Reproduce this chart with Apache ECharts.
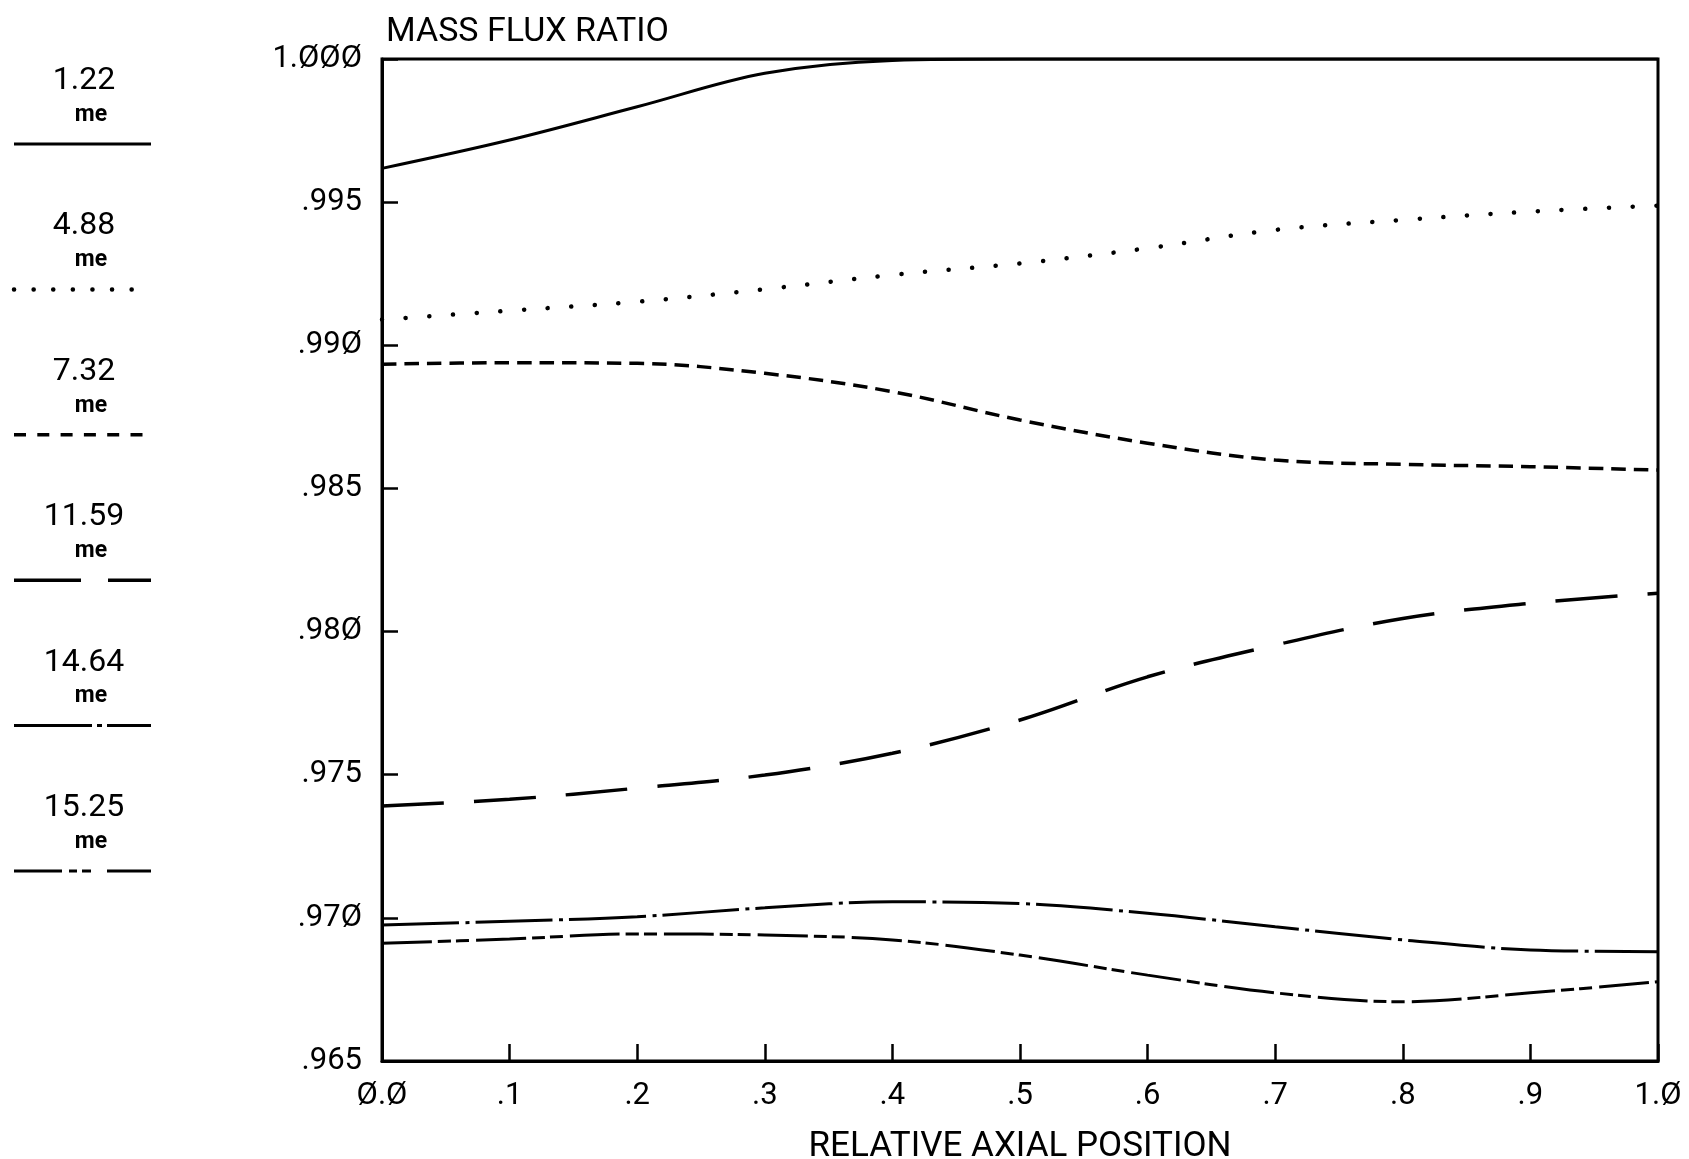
<!DOCTYPE html>
<html>
<head>
<meta charset="utf-8">
<script src="https://cdn.jsdelivr.net/npm/echarts@6/dist/echarts.min.js"></script>
<style>
  html, body { margin: 0; padding: 0; background: #fff; }
  #myChart { width: 1689px; height: 1159px; }
</style>
</head>
<body>
<div id="myChart"></div>
<script>
// axial position along the channel
const xPos = [0, 0.1, 0.2, 0.3, 0.4, 0.5, 0.6, 0.7, 0.8, 0.9, 1.0]

// mass flux ratio, one array per time (ms)
const flux122 = [0.99618, 0.99717, 0.99833, 0.99950, 0.99995, 1.0, 1.0, 1.0, 1.0, 1.0, 1.0]
const flux488 = [0.99090, 0.99121, 0.99152, 0.99196, 0.99246, 0.99286, 0.99339, 0.99403, 0.99438, 0.99467, 0.99488]
const flux732 = [0.98934, 0.98939, 0.98937, 0.98902, 0.98838, 0.98739, 0.98658, 0.98599, 0.98584, 0.98576, 0.98564]
const flux1159 = [0.97391, 0.97414, 0.97453, 0.97499, 0.97575, 0.97691, 0.97842, 0.97953, 0.98046, 0.98099, 0.98134]
const flux1464 = [0.96975, 0.96988, 0.97004, 0.97035, 0.97056, 0.97050, 0.97016, 0.96969, 0.96923, 0.96888, 0.96882]
const flux1525 = [0.96911, 0.96926, 0.96944, 0.96940, 0.96923, 0.96870, 0.96800, 0.96738, 0.96707, 0.96738, 0.96777]

const legendLabels = ['1.22', '4.88', '7.32', '11.59', '14.64', '15.25']
const legendUnit = 'me'

const xTickLabels = ['Ø.Ø', '.1', '.2', '.3', '.4', '.5', '.6', '.7', '.8', '.9', '1.Ø']
const yTickLabels = ['.965', '.97Ø', '.975', '.98Ø', '.985', '.99Ø', '.995', '1.ØØØ']

const yMin = 0.965
const yStep = 0.005
const FONT = 'Roboto'

// line style per series, same order as legendLabels
const styles = [
  { type: 'solid', width: 3, cap: 'butt', legendDash: null },
  { type: [0.1, 23.6], width: 4.5, cap: 'round', legendDash: [0.1, 19.5] },
  { type: [14.5, 8], width: 3.5, cap: 'butt', legendDash: [12, 11.3] },
  { type: [62, 30], width: 3.5, cap: 'butt', legendDash: [67, 27] },
  { type: [77, 6.5, 4, 6], width: 3, cap: 'butt', legendDash: [78, 5, 5, 5] },
  { type: [50, 6, 13, 5, 13, 7], width: 3, cap: 'butt', legendDash: [48, 7, 8, 5, 9, 16] }
]
const seriesData = [flux122, flux488, flux732, flux1159, flux1464, flux1525]

const myChart = echarts.init(document.getElementById('myChart'))

// legend on the left, drawn as text + sample lines
const legendGraphics = []
legendLabels.forEach((label, i) => {
  const ly = 144 + i * 145.4
  legendGraphics.push({
    type: 'text', x: 84, y: ly - 63,
    style: { text: label, fontFamily: FONT, fontSize: 32, fill: '#000', align: 'center', verticalAlign: 'middle' }
  })
  legendGraphics.push({
    type: 'text', x: 91, y: ly - 29,
    style: { text: legendUnit, fontFamily: FONT, fontSize: 23, fontWeight: 'bold', fill: '#000', align: 'center', verticalAlign: 'middle' }
  })
  legendGraphics.push({
    type: 'line',
    shape: { x1: 14, y1: ly, x2: 151, y2: ly },
    style: {
      stroke: '#000',
      lineWidth: styles[i].width,
      lineDash: styles[i].legendDash,
      lineCap: styles[i].cap
    }
  })
})

const option = {
  backgroundColor: '#fff',
  animation: false,
  title: {
    text: 'MASS FLUX RATIO',
    left: 381,
    top: 10,
    textStyle: { fontFamily: FONT, fontSize: 34, fontWeight: 'normal', color: '#000' }
  },
  grid: {
    left: 382,
    right: 31,
    top: 59,
    bottom: 98,
    outerBoundsMode: 'none',
    containLabel: false,
    show: true,
    borderColor: '#000',
    borderWidth: 3,
    backgroundColor: 'transparent'
  },
  xAxis: {
    type: 'value',
    min: 0,
    max: 1,
    interval: 0.1,
    name: 'RELATIVE AXIAL POSITION',
    nameLocation: 'middle',
    nameGap: 69,
    nameTextStyle: { fontFamily: FONT, fontSize: 35, color: '#000' },
    axisLine: { show: true, lineStyle: { color: '#000', width: 3 } },
    axisTick: { show: true, inside: true, length: 17, lineStyle: { color: '#000', width: 2.5 } },
    axisLabel: {
      margin: 20,
      fontFamily: FONT,
      fontSize: 31,
      color: '#000',
      showMinLabel: true,
      showMaxLabel: true,
      formatter: (v) => xTickLabels[Math.round(v * 10)]
    },
    splitLine: { show: false }
  },
  yAxis: {
    type: 'value',
    min: yMin,
    max: 1.0,
    interval: yStep,
    axisLine: { show: true, lineStyle: { color: '#000', width: 3 } },
    axisTick: { show: true, inside: true, length: 16, lineStyle: { color: '#000', width: 2.5 } },
    axisLabel: {
      margin: 20,
      fontFamily: FONT,
      fontSize: 31,
      color: '#000',
      showMinLabel: true,
      showMaxLabel: true,
      formatter: (v) => yTickLabels[Math.round((v - yMin) / yStep)]
    },
    splitLine: { show: false }
  },
  series: seriesData.map((vals, i) => ({
    name: legendLabels[i],
    type: 'line',
    smooth: 0.35,
    symbol: 'none',
    clip: true,
    lineStyle: {
      color: '#000',
      width: styles[i].width,
      type: styles[i].type,
      cap: styles[i].cap
    },
    data: xPos.map((x, k) => [x, vals[k]])
  })),
  graphic: legendGraphics
}

myChart.setOption(option)
</script>
</body>
</html>
